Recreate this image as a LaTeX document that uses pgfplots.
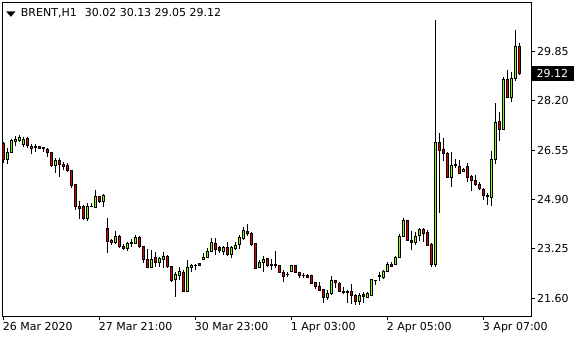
\documentclass[border=0pt]{standalone}
\usepackage{fontspec}
\setmainfont{DejaVu Sans}
\usepackage{pgfplots}
\pgfplotsset{compat=1.18}
\definecolor{bull}{RGB}{128,255,0}
\definecolor{bear}{RGB}{225,0,0}
\pgfdeclareplotmark{nothing}{}

\begin{document}
\begin{tikzpicture}[font=\fontsize{11}{13}\selectfont]
\useasboundingbox (0pt,0pt) rectangle (580pt,340pt);
\begin{axis}[
  at={(2.5pt,24pt)}, anchor=south west,
  scale only axis, width=528.5pt, height=313pt,
  xmin=-0.3, xmax=131.8, ymin=21.0, ymax=31.47,
  clip=false,
  axis line style={black, line width=1pt},
  tick style={black, line width=1pt},
  tick align=outside, major tick length=4pt,
  xtick pos=bottom, ytick pos=right, yticklabel pos=right,
  xtick={0,24,48,72,96,120},
  xticklabels={26 Mar 2020, 27 Mar 21:00, 30 Mar 23:00, 1 Apr 03:00, 2 Apr 05:00, 3 Apr 07:00},
  xticklabel style={anchor=north west, inner sep=0pt, xshift=-1pt, yshift=-2pt},
  ytick={21.6,23.25,24.9,26.55,28.2,29.85},
  yticklabels={21.60,23.25,24.90,26.55,28.20,29.85},
  yticklabel style={anchor=west, inner sep=0pt, xshift=2pt},
]
\addplot[scatter, only marks, mark=nothing,
  visualization depends on={value \thisrow{o} \as \vO},
  visualization depends on={value \thisrow{h} \as \vH},
  visualization depends on={value \thisrow{l} \as \vL},
  visualization depends on={value \thisrow{c} \as \vC},
  scatter/@pre marker code/.code={%
    \begingroup
    \pgfkeys{/pgf/fpu=false}%
    \pgfmathsetmacro\dH{\vH-\vC}%
    \pgfmathsetmacro\dL{\vL-\vC}%
    \pgfmathsetmacro\dO{\vO-\vC}%
    \draw[black, line width=0.9pt] (axis direction cs:0,\dH) -- (axis direction cs:0,\dL);
    \ifdim\dO pt>0pt \def\fc{bear}\else\def\fc{bull}\fi
    \filldraw[draw=black, fill=\fc, line width=0.7pt] (-1.0pt,0pt) rectangle ([xshift=1.0pt]axis direction cs:0,\dO);
    \endgroup
  },
  scatter/@post marker code/.code={},
] table[x=i, y=c] {
i o h l c
0 26.78 26.82 26.11 26.24
1 26.24 26.63 26.07 26.46
2 26.48 26.91 26.45 26.89
3 26.85 27.02 26.70 26.90
4 26.88 27.06 26.83 26.99
5 26.74 27.00 26.65 26.92
6 26.95 27.00 26.63 26.72
7 26.69 26.74 26.41 26.61
8 26.69 26.74 26.50 26.63
9 26.69 26.70 26.59 26.61
10 26.63 26.66 26.50 26.61
11 26.59 26.63 26.33 26.48
12 26.48 26.49 25.99 26.03
13 26.03 26.28 25.77 26.21
14 26.22 26.30 25.66 26.07
15 26.07 26.14 25.88 26.01
16 26.03 26.11 25.83 25.87
17 25.88 25.89 25.27 25.38
18 25.41 25.41 24.55 24.67
19 24.68 24.85 24.26 24.60
20 24.68 24.71 24.21 24.28
21 24.27 24.79 24.19 24.68
22 24.68 24.77 24.64 24.66
23 24.64 25.21 24.60 25.01
24 24.99 25.01 24.77 24.82
25 24.82 25.08 24.66 25.04
26 23.93 24.29 23.10 23.51
27 23.53 23.57 23.37 23.46
28 23.46 23.85 23.40 23.68
29 23.68 23.71 23.28 23.32
30 23.34 23.41 23.22 23.26
31 23.26 23.48 23.17 23.43
32 23.42 23.57 23.31 23.48
33 23.42 23.71 23.40 23.64
34 23.64 23.69 23.28 23.32
35 23.34 23.35 22.76 22.90
36 22.90 23.23 22.59 22.63
37 22.63 23.21 22.59 22.90
38 22.95 23.15 22.65 22.78
39 22.78 22.98 22.65 22.92
40 22.90 23.15 22.61 23.01
41 23.01 23.04 22.61 22.65
42 22.65 22.66 22.15 22.18
43 22.23 22.48 21.64 22.39
44 22.37 22.65 22.20 22.48
45 22.46 22.54 21.80 21.81
46 21.81 22.87 21.80 22.63
47 22.63 22.73 22.48 22.70
48 22.70 22.75 22.54 22.69
49 22.76 22.77 22.68 22.70
50 22.90 23.10 22.89 22.97
51 22.97 23.26 22.93 23.17
52 23.17 23.60 23.15 23.46
53 23.43 23.60 23.04 23.24
54 23.28 23.35 23.10 23.20
55 23.17 23.34 23.04 23.28
56 23.28 23.46 23.02 23.06
57 23.06 23.35 22.93 23.31
58 23.26 23.46 23.21 23.37
59 23.40 23.71 23.23 23.62
60 23.60 23.99 23.54 23.88
61 23.84 24.07 23.69 23.75
62 23.77 23.80 23.35 23.40
63 23.43 23.44 22.56 22.59
64 22.64 22.87 22.61 22.80
65 22.80 23.02 22.48 22.91
66 22.93 22.95 22.65 22.68
67 22.73 22.91 22.54 22.68
68 22.73 23.17 22.59 22.68
69 22.70 22.71 22.43 22.46
70 22.46 22.54 22.15 22.31
71 22.39 22.46 22.29 22.38
72 22.48 22.71 22.46 22.70
73 22.70 22.72 22.44 22.46
74 22.47 22.48 22.28 22.37
75 22.37 22.43 22.28 22.36
76 22.37 22.39 22.27 22.30
77 22.37 22.38 22.07 22.09
78 22.11 22.12 21.90 21.98
79 22.00 22.15 21.83 21.87
80 21.89 21.90 21.42 21.62
81 21.64 21.87 21.53 21.77
82 21.76 22.35 21.70 22.19
83 22.19 22.20 21.92 22.11
84 22.09 22.13 21.79 21.83
85 21.84 21.98 21.72 21.79
86 21.81 21.87 21.42 21.80
87 21.81 22.07 21.39 21.68
88 21.70 21.72 21.37 21.48
89 21.48 21.76 21.37 21.70
90 21.72 21.79 21.42 21.67
91 21.64 21.79 21.59 21.76
92 21.70 22.25 21.68 22.24
93 22.19 22.20 22.04 22.18
94 22.31 22.48 22.17 22.35
95 22.28 22.54 22.24 22.50
96 22.48 22.81 22.47 22.73
97 22.73 22.81 22.65 22.67
98 22.73 23.02 22.70 22.95
99 22.95 23.73 22.93 23.68
100 23.65 24.27 23.63 24.21
101 24.21 24.22 23.51 23.54
102 23.54 23.84 23.21 23.46
103 23.46 23.82 23.37 23.68
104 23.69 23.95 23.51 23.90
105 23.90 23.93 23.48 23.78
106 23.79 23.88 23.35 23.37
107 23.41 23.43 22.65 22.73
108 22.73 30.90 22.65 26.81
109 26.81 27.11 24.44 26.55
110 26.59 26.95 26.19 26.43
111 26.44 26.50 25.61 25.63
112 25.63 26.50 25.33 26.05
113 26.07 26.25 25.96 26.03
114 26.00 26.22 25.75 25.77
115 25.83 25.96 25.81 25.92
116 26.02 26.11 25.47 25.63
117 25.66 25.72 25.19 25.53
118 25.55 25.72 25.36 25.41
119 25.42 25.49 25.21 25.26
120 25.25 25.29 24.88 25.02
121 25.05 25.10 24.71 24.99
122 24.96 26.52 24.69 26.25
123 26.25 28.12 26.07 27.48
124 27.52 27.82 26.85 27.25
125 27.25 28.99 27.22 28.90
126 28.90 29.23 28.28 28.30
127 28.30 29.17 28.15 28.95
128 28.95 30.57 28.87 30.03
129 30.02 30.13 29.05 29.12
};
\coordinate (cur) at (axis cs:131.8,29.12);
\node[anchor=west, inner sep=0pt, xshift=3.5pt, yshift=-10pt] at (rel axis cs:0,1)
  {\scalebox{1.15}[0.65]{▼}\hspace{5pt}BRENT,H1\hspace{8pt}30.02 30.13 29.05 29.12};
\end{axis}
\node[fill=black, text=white, anchor=west, inner xsep=5.5pt, inner ysep=1.5pt, minimum height=15pt] at (cur) {29.12};
\end{tikzpicture}
\end{document}
